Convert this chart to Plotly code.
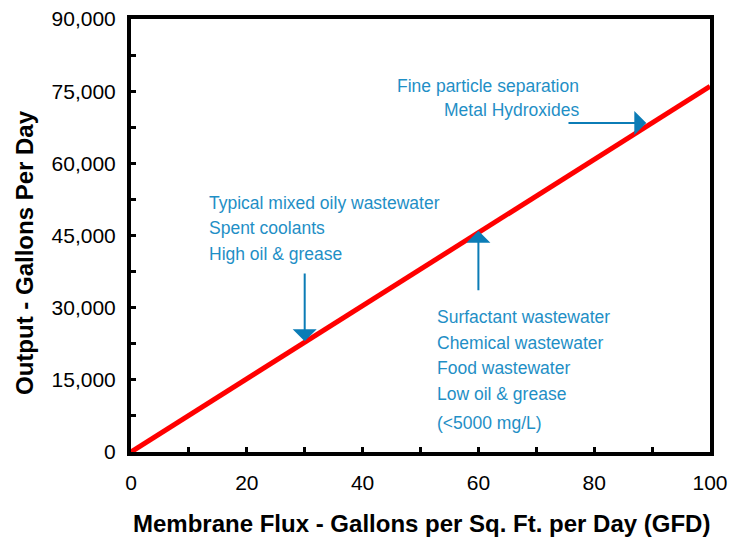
import plotly.graph_objects as go

# Data
flux_gfd = [0, 100]
output_gpd = [0, 76000]

x_ticks = [0, 20, 40, 60, 80, 100]
y_ticks = [0, 15000, 30000, 45000, 60000, 75000, 90000]
y_tick_labels = ["0", "15,000", "30,000", "45,000", "60,000", "75,000", "90,000"]

note_high_oil = ["Typical mixed oily wastewater", "Spent coolants", "High oil & grease"]
note_low_oil = ["Surfactant wastewater", "Chemical wastewater", "Food wastewater", "Low oil & grease"]
note_low_oil_extra = "(<5000 mg/L)"
note_fine = ["Fine particle separation", "Metal Hydroxides"]

BLUE_TXT = "#1f8fc6"
BLUE_ARR = "#0b7cb6"
NARROW = "Liberation Sans Narrow, Arial Narrow, Liberation Sans, sans-serif"
SANS = "Liberation Sans, Arial, sans-serif"

fig = go.Figure()
fig.add_trace(go.Scatter(x=flux_gfd, y=output_gpd, mode="lines",
                         line=dict(color="#ff0000", width=5), showlegend=False,
                         hoverinfo="skip"))

axis_common = dict(showline=True, linecolor="black", linewidth=4, mirror=True,
                   showgrid=False, zeroline=False, ticks="inside", ticklen=5,
                   tickwidth=3, tickcolor="black", automargin=False,
                   tickfont=dict(family=SANS, size=21, color="black"))

fig.update_xaxes(range=[0, 100], tickvals=x_ticks,
                 minor=dict(dtick=10, ticks="inside", ticklen=5, tickwidth=3, tickcolor="black"),
                 ticklabelstandoff=9,
                 **axis_common)
fig.update_yaxes(range=[0, 90000], tickvals=y_ticks, ticktext=y_tick_labels,
                 minor=dict(dtick=7500, ticks="inside", ticklen=5, tickwidth=3, tickcolor="black"),
                 ticklabelstandoff=7,
                 **axis_common)

# Arrows
arrows = [
    dict(x=30, y=23000, ax=30, ay=37400),
    dict(x=60, y=46000, ax=60, ay=33300),
    dict(x=89, y=68400, ax=75.3, ay=68400),
]
for a in arrows:
    fig.add_annotation(x=a["x"], y=a["y"], ax=a["ax"], ay=a["ay"],
                       xref="x", yref="y", axref="x", ayref="y",
                       text="", showarrow=True, arrowhead=1, arrowsize=2.0,
                       arrowwidth=2, arrowcolor=BLUE_ARR)

L, R, T, B = 131, 710, 19, 452
def px(xp):
    return (xp - L) / (R - L)
def py(yp):
    return (B - yp) / (B - T)

def add_lines(lines, x_px, y_px_list, xanchor):
    for t, yp in zip(lines, y_px_list):
        fig.add_annotation(x=px(x_px), y=py(yp), xref="paper", yref="paper", text=t,
                           showarrow=False, xanchor=xanchor, yanchor="middle",
                           font=dict(family=NARROW, size=17.5, color=BLUE_TXT))

add_lines(note_high_oil, 207, [203, 228, 254], "left")
add_lines(note_low_oil + [note_low_oil_extra], 435, [317, 343, 368, 394, 423], "left")
add_lines(note_fine, 581, [86, 110], "right")

# Axis titles
fig.add_annotation(x=px(421), y=py(523), xref="paper", yref="paper",
                   text="<b>Membrane Flux - Gallons per Sq. Ft. per Day (GFD)</b>",
                   showarrow=False, xanchor="center", yanchor="middle",
                   font=dict(family=SANS, size=24, color="black"))
fig.add_annotation(x=px(25), y=py(253), xref="paper", yref="paper",
                   text="<b>Output - Gallons Per Day</b>", textangle=-90,
                   showarrow=False, xanchor="center", yanchor="middle",
                   font=dict(family=SANS, size=24, color="black"))

fig.update_layout(width=730, height=537, plot_bgcolor="white", paper_bgcolor="white",
                  margin=dict(l=L, r=730 - R, t=T, b=537 - B), showlegend=False)

fig.write_html("out.html", config={"displayModeBar": False},
               post_script="document.body.style.margin='0';document.body.style.padding='0';")
